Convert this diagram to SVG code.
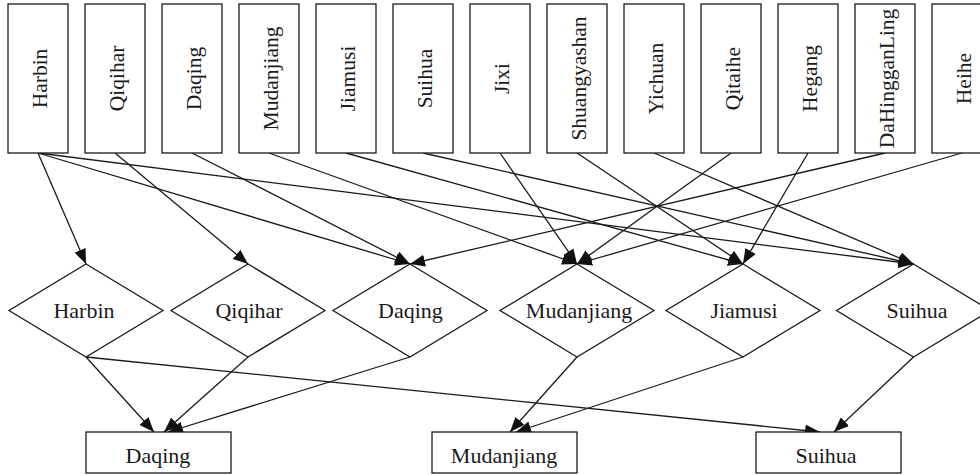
<svg xmlns="http://www.w3.org/2000/svg" width="980" height="475" viewBox="0 0 980 475">
<style>
  .box { fill: #ffffff; stroke: #1a1a1a; stroke-width: 1.3; }
  .dia { fill: #ffffff; stroke: #1a1a1a; stroke-width: 1.3; }
  .lbl { font-family: "Liberation Serif", "Times New Roman", serif; font-size: 22px; fill: #1a1a1a; text-anchor: middle; }
  .vl { font-size: 21.5px; }
  .edge { fill: none; stroke: #1a1a1a; stroke-width: 1.3; marker-end: url(#arr); }
</style>
<defs>
  <marker id="arr" markerUnits="userSpaceOnUse" markerWidth="15" markerHeight="12" viewBox="0 0 15 12" refX="15" refY="6" orient="auto">
    <path d="M0,0 L15,6 L0,12 Z" fill="#111111"/>
  </marker>
</defs>
<rect width="980" height="475" fill="#ffffff"/>

<g id="connectors">
  <line class="edge" x1="38" y1="153" x2="86" y2="264"/>
  <line class="edge" x1="38" y1="153" x2="410" y2="264"/>
  <line class="edge" x1="38" y1="153" x2="913.5" y2="264"/>
  <line class="edge" x1="115" y1="153" x2="248" y2="264"/>
  <line class="edge" x1="192" y1="153" x2="410" y2="264"/>
  <line class="edge" x1="269" y1="153" x2="577" y2="264"/>
  <line class="edge" x1="346" y1="153" x2="743" y2="264"/>
  <line class="edge" x1="423" y1="153" x2="913.5" y2="264"/>
  <line class="edge" x1="500" y1="153" x2="577" y2="264"/>
  <line class="edge" x1="577" y1="153" x2="743" y2="264"/>
  <line class="edge" x1="654" y1="153" x2="913.5" y2="264"/>
  <line class="edge" x1="731" y1="153" x2="577" y2="264"/>
  <line class="edge" x1="808" y1="153" x2="743" y2="264"/>
  <line class="edge" x1="885" y1="153" x2="410" y2="264"/>
  <line class="edge" x1="962" y1="153" x2="577" y2="264"/>
  <line class="edge" x1="86" y1="357" x2="154" y2="432"/>
  <line class="edge" x1="248" y1="357" x2="164" y2="432"/>
  <line class="edge" x1="410" y1="357" x2="168" y2="432"/>
  <line class="edge" x1="86" y1="357" x2="820" y2="432"/>
  <line class="edge" x1="577" y1="357" x2="510" y2="432"/>
  <line class="edge" x1="743" y1="357" x2="516" y2="432"/>
  <line class="edge" x1="913.5" y1="357" x2="834" y2="432"/>
</g>

<g id="src-harbin"><rect class="box" x="8" y="4" width="60" height="149"/><text class="lbl vl" transform="translate(38.5,78.5) rotate(-90)" y="8.5">Harbin</text></g>
<g id="src-qiqihar"><rect class="box" x="85" y="4" width="60" height="149"/><text class="lbl vl" transform="translate(115.5,78.5) rotate(-90)" y="8.5">Qiqihar</text></g>
<g id="src-daqing"><rect class="box" x="162" y="4" width="60" height="149"/><text class="lbl vl" transform="translate(192.5,78.5) rotate(-90)" y="8.5">Daqing</text></g>
<g id="src-mudanjiang"><rect class="box" x="239" y="4" width="60" height="149"/><text class="lbl vl" transform="translate(269.5,78.5) rotate(-90)" y="8.5">Mudanjiang</text></g>
<g id="src-jiamusi"><rect class="box" x="316" y="4" width="60" height="149"/><text class="lbl vl" transform="translate(346.5,78.5) rotate(-90)" y="8.5">Jiamusi</text></g>
<g id="src-suihua"><rect class="box" x="393" y="4" width="60" height="149"/><text class="lbl vl" transform="translate(423.5,78.5) rotate(-90)" y="8.5">Suihua</text></g>
<g id="src-jixi"><rect class="box" x="470" y="4" width="60" height="149"/><text class="lbl vl" transform="translate(500.5,78.5) rotate(-90)" y="8.5">Jixi</text></g>
<g id="src-shuangyashan"><rect class="box" x="547" y="4" width="60" height="149"/><text class="lbl vl" transform="translate(577.5,78.5) rotate(-90)" y="8.5">Shuangyashan</text></g>
<g id="src-yichuan"><rect class="box" x="624" y="4" width="60" height="149"/><text class="lbl vl" transform="translate(654.5,78.5) rotate(-90)" y="8.5">Yichuan</text></g>
<g id="src-qitaihe"><rect class="box" x="701" y="4" width="60" height="149"/><text class="lbl vl" transform="translate(731.5,78.5) rotate(-90)" y="8.5">Qitaihe</text></g>
<g id="src-hegang"><rect class="box" x="778" y="4" width="60" height="149"/><text class="lbl vl" transform="translate(808.5,78.5) rotate(-90)" y="8.5">Hegang</text></g>
<g id="src-dahingganling"><rect class="box" x="855" y="4" width="60" height="149"/><text class="lbl vl" transform="translate(885.5,78.5) rotate(-90)" y="8.5">DaHingganLing</text></g>
<g id="src-heihe"><rect class="box" x="932" y="4" width="60" height="149"/><text class="lbl vl" transform="translate(962.5,78.5) rotate(-90)" y="8.5">Heihe</text></g>

<g id="dia-harbin"><polygon class="dia" points="86,264 163,310.5 86,357 9,310.5"/><text class="lbl" x="84" y="317.5">Harbin</text></g>
<g id="dia-qiqihar"><polygon class="dia" points="248,264 325,310.5 248,357 171,310.5"/><text class="lbl" x="249" y="317.5">Qiqihar</text></g>
<g id="dia-daqing"><polygon class="dia" points="410,264 487,310.5 410,357 333,310.5"/><text class="lbl" x="410.5" y="317.5">Daqing</text></g>
<g id="dia-mudanjiang"><polygon class="dia" points="577,264 654,310.5 577,357 500,310.5"/><text class="lbl" x="579" y="317.5">Mudanjiang</text></g>
<g id="dia-jiamusi"><polygon class="dia" points="743,264 820,310.5 743,357 666,310.5"/><text class="lbl" x="744" y="317.5">Jiamusi</text></g>
<g id="dia-suihua"><polygon class="dia" points="913.5,264 990.5,310.5 913.5,357 836.5,310.5"/><text class="lbl" x="917" y="317.5">Suihua</text></g>

<g id="dst-daqing"><rect class="box" x="86" y="432" width="145" height="41"/><text class="lbl" x="158" y="462.5">Daqing</text></g>
<g id="dst-mudanjiang"><rect class="box" x="432" y="432" width="145" height="41"/><text class="lbl" x="504" y="462.5">Mudanjiang</text></g>
<g id="dst-suihua"><rect class="box" x="756" y="432" width="145" height="41"/><text class="lbl" x="826" y="462.5">Suihua</text></g>
</svg>
